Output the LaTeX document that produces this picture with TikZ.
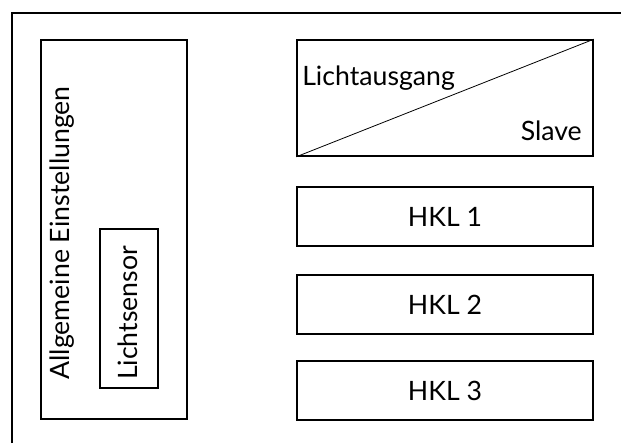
\documentclass[tikz,border=0pt]{standalone}
\usepackage{fontspec}
\setmainfont{Lato}
\usetikzlibrary{fit,positioning}
\tikzset{box/.style={draw, line width=1.2pt, inner sep=0pt}}
\tikzset{lbl/.style={font=\fontsize{20}{22}\selectfont, inner sep=0pt}}

\begin{document}
\begin{tikzpicture}[x=0.75pt,y=-0.75pt]

\useasboundingbox (0,0) rectangle (621,443);

% frame
\draw[line width=1.1pt] (12,443) -- (12,13) -- (621,13);

% left part
\node[box, fit={(41,40) (187,419)}] (allg) {};
\node[box, fit={(100,229) (158,388)}] (sensor) {};
\node[lbl, rotate=90, anchor=base] (allgtxt) at (69,233) {Allgemeine Einstellungen};
\node[lbl, rotate=90, anchor=base] (sensortxt) at (137,313) {Lichtsensor};

% right part
\node[box, fit={(297,40) (593,156)}] (ausg) {};
\draw[line width=0.6pt] (ausg.south west) -- (ausg.north east);
\node[lbl, anchor=base west] (ausgtxt) at (302,85) {Lichtausgang};
\node[lbl, anchor=base east] (slave) at (582,140) {Slave};

\node[box, fit={(297,187) (593,246)}] (hkl1) {};
\node[box, fit={(297,275) (593,334)}] (hkl2) {};
\node[box, fit={(297,361) (593,420)}] (hkl3) {};
\node[lbl] (hkl1txt) at (hkl1) {HKL 1};
\node[lbl] (hkl2txt) at (hkl2) {HKL 2};
\node[lbl] (hkl3txt) at (hkl3) {HKL 3};

\end{tikzpicture}
\end{document}
